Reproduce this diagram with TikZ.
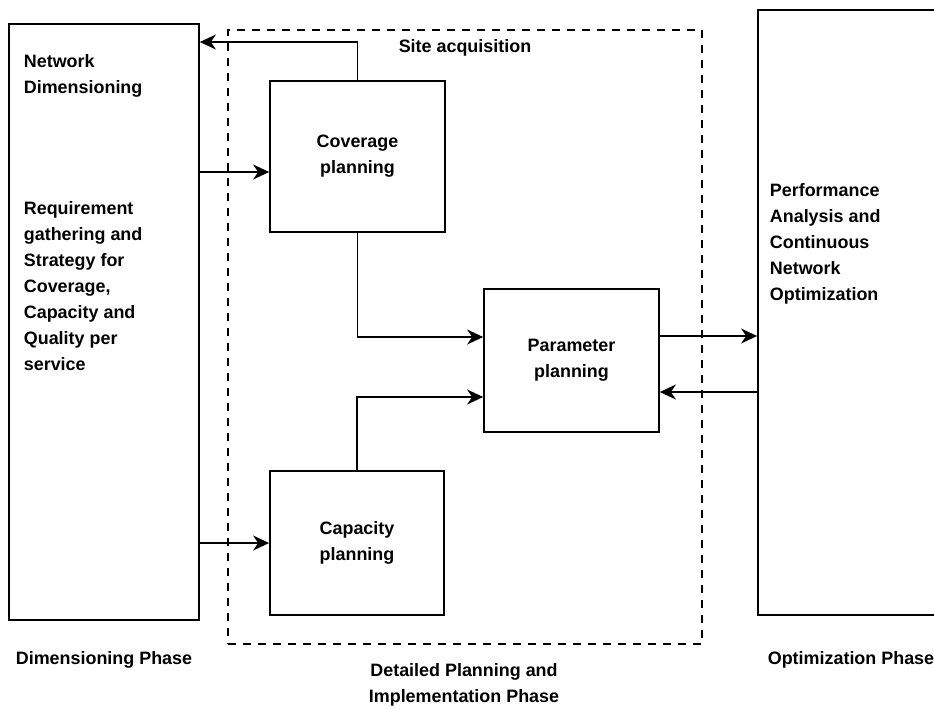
\documentclass[tikz,border=0pt]{standalone}
\usepackage{fontspec}
\setmainfont{Liberation Sans}
\usetikzlibrary{arrows.meta}
\tikzset{>={Stealth[length=3.2mm,width=3mm,inset=1mm]}}

\begin{document}
\begin{tikzpicture}[x=0.2mm,y=-0.2mm,line width=1pt,font=\fontsize{10.2}{14.8}\selectfont\bfseries]
\tikzstyle{blk}=[rectangle,draw,line width=1pt,inner sep=0,align=center]
\tikzstyle{txt}=[align=left,inner sep=0]
\tikzstyle{lbl}=[align=center,inner sep=0]
\useasboundingbox (0,0) rectangle (934,708);

    % phase frame
    \node[blk, dashed, dash pattern=on 1.6mm off 1.4mm, minimum width=94.8mm, minimum height=122.8mm] (site) at (465,337){};
    \node[lbl] (sitelbl) at (465,48){Site acquisition};

    % boxes
    \node[blk, minimum width=38mm, minimum height=119.2mm] (dim) at (104,322){};
    \node[blk, minimum width=35mm, minimum height=30.2mm] (cov) at (357.5,156.5){Coverage\\planning};
    \node[blk, minimum width=35mm, minimum height=28.6mm] (par) at (571.5,360.5){Parameter\\planning};
    \node[blk, minimum width=34.8mm, minimum height=28.8mm] (cap) at (357,543){Capacity\\planning};
    \node[blk, minimum width=40mm, minimum height=121mm] (opt) at (858,312.5){};

    % box texts
    \node[txt, anchor=west] (dimtitle) at (23,76){Network\\Dimensioning};
    \node[txt, anchor=west] (dimtext) at (23,286){Requirement\\gathering and\\Strategy for\\Coverage,\\Capacity and\\Quality per\\service};
    \node[txt, anchor=west] (opttext) at (769,243.5){Performance\\Analysis and\\Continuous\\Network\\Optimization};

    % phase names
    \node[lbl] (dimphase) at (104,660){Dimensioning Phase};
    \node[lbl] (detphase) at (464,685){Detailed Planning and\\Implementation Phase};
    \node[lbl] (optphase) at (851,660){Optimization Phase};

    % turning points
    \coordinate (c1) at (357.5,42);
    \coordinate (c2) at (199,172);
    \coordinate (c3) at (357.5,337);
    \coordinate (c4) at (357,397);
    \coordinate (c5) at (659,336);
    \coordinate (c6) at (758,392);

    \draw[->] (cov.north) -- (c1) -- (c1 -| dim.east);
    \draw[->] (c2) -- (c2 -| cov.west);
    \draw[->] (dim.east |- cap.west) -- (cap.west);
    \draw[->] (cov.south) -- (c3) -- (c3 -| par.west);
    \draw[->] (cap.north) -- (c4) -- (c4 -| par.west);
    \draw[->] (c5) -- (c5 -| opt.west);
    \draw[->] (c6) -- (c6 -| par.east);

\end{tikzpicture}
\end{document}
